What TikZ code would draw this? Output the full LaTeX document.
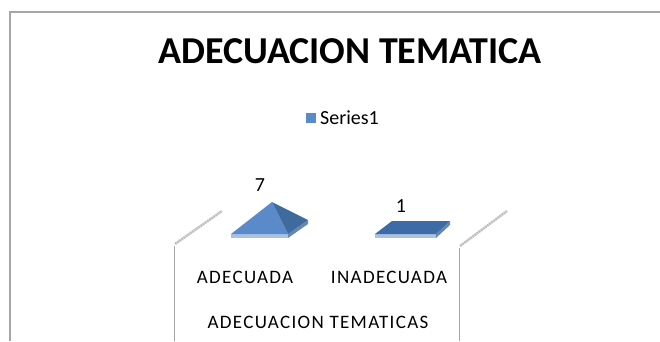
\documentclass[tikz,border=0pt]{standalone}
\usepackage{fontspec}
\setmainfont{Carlito}
\usepackage{tikz}
\definecolor{frontblue}{HTML}{5B8ACB}
\definecolor{sideblue}{HTML}{3F6A9E}
\definecolor{topblue}{HTML}{3D6BA6}
\definecolor{baseblue}{HTML}{A9C1E2}
\definecolor{framegray}{HTML}{A6A6A6}
\definecolor{stubgray}{HTML}{C0C0C0}
\tikzstyle{etiqueta}=[inner sep=0pt, font=\fontsize{20}{24}\selectfont]
\tikzstyle{categoria}=[inner sep=0pt, font=\fontsize{19}{22}\selectfont\addfontfeature{LetterSpace=7}]
\tikzstyle{eje}=[draw=framegray, line width=1pt]
\tikzstyle{diag}=[draw=stubgray, line width=2.5pt, dash pattern=on 2pt off 0.6pt]

\begin{document}
\begin{tikzpicture}[x=1pt, y=-1pt]
			\useasboundingbox (0,0) rectangle (660,341);
			% marco
			\path[draw=framegray, line width=1.3pt] (660,12)--(10,12)--(10,341);
			% titulo y leyenda
			\node[inner sep=0pt, font=\fontsize{38}{42}\selectfont\bfseries] (titulo) at (350,51) {ADECUACION TEMATICA};
			\node[fill=frontblue, minimum size=10pt, inner sep=0pt] (cuadro) at (311,118) {};
			\node[etiqueta, anchor=west] (serie) at (320,118) {Series1};
			% ejes
			\path[eje] (174,341)--(174,246);
			\path[diag] (175,244)--(222,211);
			\path[eje] (459,341)--(459,248);
			\path[diag] (460,246)--(507,211);
			% piramide ADECUADA
			\fill[baseblue] (231,234)--(288,234)--(288,238)--(231,238)--cycle;
			\fill[sideblue!80] (288,234)--(308,220)--(308,224)--(288,238)--cycle;
			\fill[frontblue] (231,234)--(272,202)--(288,234)--cycle;
			\fill[sideblue] (272,202)--(308,220)--(288,234)--cycle;
			% piramide INADECUADA
			\fill[baseblue] (375,234)--(436,234)--(436,238)--(375,238)--cycle;
			\fill[sideblue!80] (436,234)--(450,221)--(450,225)--(436,238)--cycle;
			\fill[topblue] (375,234)--(392,221)--(450,221)--(436,234)--cycle;
			% valores
			\node[etiqueta] (v1) at (260,185) {7};
			\node[etiqueta] (v2) at (401,206) {1};
			% categorias
			\node[categoria] (c1) at (245,277) {ADECUADA};
			\node[categoria] (c2) at (389,277) {INADECUADA};
			\node[categoria] (ejex) at (318,322) {ADECUACION TEMATICAS};
		\end{tikzpicture}
\end{document}
